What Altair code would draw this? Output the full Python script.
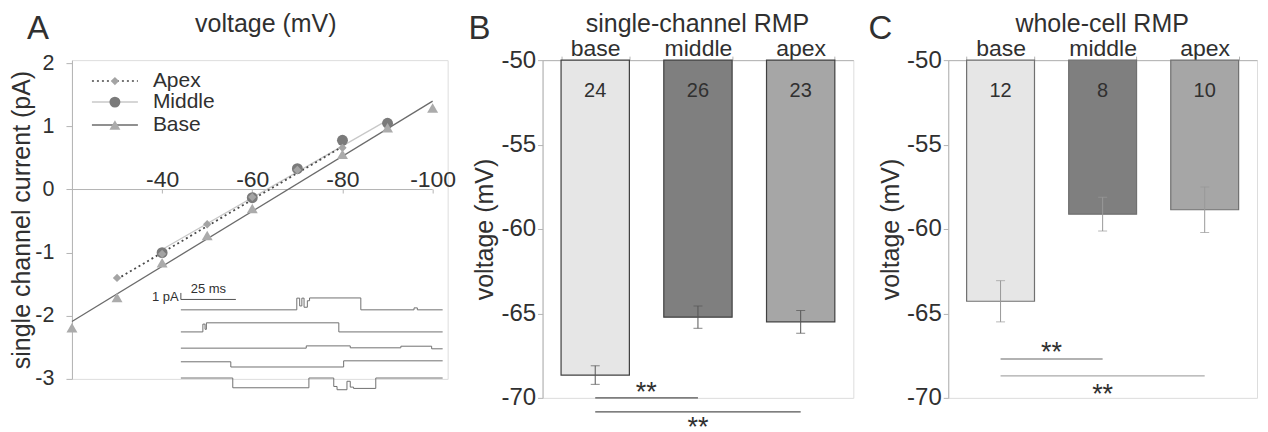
import altair as alt
import pandas as pd

FONT = "Liberation Sans"
TXT = "#303030"
AX = "#b4b4b4"
LBL = "'' + datum.value"

# ---------------- Panel A: I-V relation ----------------
base_v = [-20, -30, -40, -50, -60, -80, -90, -100]
base_i = [-2.19, -1.71, -1.16, -0.73, -0.30, 0.56, 0.98, 1.29]
mid_v = [-40, -60, -70, -80, -90]
mid_i = [-1.00, -0.13, 0.33, 0.78, 1.05]
apex_v = [-30, -40, -50, -60, -70, -80]
apex_i = [-1.40, -1.02, -0.55, -0.12, 0.31, 0.66]
# linear fits (end points)
base_fit_v = [-20, -100]
base_fit_i = [-2.09, 1.40]
mid_fit_v = [-40, -90]
mid_fit_i = [-0.95, 1.10]
apex_fit_v = [-30, -80]
apex_fit_i = [-1.42, 0.68]
x_ticks_A = [-40, -60, -80, -100]
y_ticks_A = [-3, -2, -1, 0, 1, 2]

# inset: single-channel traces (step levels, ms / pA-offset)
tr_t = [
    [0, 52.7, 54.0, 55.0, 56.0, 57.5, 58.5, 81.8, 106.0, 107.5, 119],
    [0, 10.0, 11.0, 11.6, 71.8, 119],
    [0, 57, 77, 100, 114, 119],
    [0, 22.7, 74, 119],
    [0, 23.6, 58.2, 69.5, 71.0, 75.5, 77.0, 78.5, 88.6, 119],
]
tr_c = [
    [-2.6, -0.8, -2.0, -0.8, -2.2, -1.2, -0.77, -2.6, -2.3, -2.6, -2.6],
    [-6.0, -4.8, -5.6, -4.6, -6.0, -6.0],
    [-8.5, -8.15, -8.45, -8.2, -8.6, -8.6],
    [-10.6, -11.4, -10.45, -10.45],
    [-13.1, -14.6, -13.1, -14.4, -14.9, -13.6, -14.5, -14.7, -13.1, -13.1],
]

# ---------------- Panels B, C ----------------
cats = ["base", "middle", "apex"]
bar_colors = ["#e6e6e6", "#7f7f7f", "#a6a6a6"]
b_vals = [-68.65, -65.22, -65.50]
b_errs = [0.55, 0.66, 0.67]
b_n = ["24", "26", "23"]
c_vals = [-64.28, -59.12, -58.86]
c_errs = [1.22, 1.00, 1.35]
c_n = ["12", "8", "10"]
y_ticks_BC = [-50, -55, -60, -65, -70]

one = pd.DataFrame({"k": [0]})

# ---------- build panel A ----------
WA, HA = 376, 319
XA = alt.X("v:Q", scale=alt.Scale(domain=[-103.33, -20], reverse=True, nice=False, zero=False),
           axis=alt.Axis(orient="bottom", offset=-190, values=x_ticks_A, domain=False,
                         tickSize=4, tickColor=AX, labelFontSize=23, labelColor=TXT, labelExpr=LBL,
                         labelPadding=-7, labelBaseline="alphabetic", title=None, grid=False))
YA = alt.Y("i:Q", scale=alt.Scale(domain=[-3, 2.05], nice=False, zero=False),
           axis=alt.Axis(values=y_ticks_A, labelFontSize=21.5, labelColor=TXT, tickSize=6, labelExpr=LBL,
                         tickColor=AX, domainColor=AX, title="single channel current (pA)",
                         titleFontSize=25, titleColor=TXT, titleFontWeight="normal",
                         titlePadding=0, grid=False, labelPadding=12))


def line_layer(vs, is_, **kw):
    return alt.Chart(pd.DataFrame({"v": vs, "i": is_})).mark_line(**kw).encode(x=XA, y=YA)


def pt_layer(vs, is_, **kw):
    return alt.Chart(pd.DataFrame({"v": vs, "i": is_})).mark_point(filled=True, opacity=1, **kw).encode(x=XA, y=YA)


xline = alt.Chart(pd.DataFrame({"v": [-20], "v2": [-100], "i": [0]})).mark_rule(color=AX, strokeWidth=1).encode(
    x=XA, x2="v2:Q", y=YA)

main_layers = [
    xline,
    line_layer(mid_fit_v, mid_fit_i, color="#c8c8c8", strokeWidth=1.3),
    line_layer(base_fit_v, base_fit_i, color="#6b6b6b", strokeWidth=1.3),
    line_layer(apex_fit_v, apex_fit_i, color="#4a4a4a", strokeWidth=1.8, strokeDash=[2, 3]),
    pt_layer(mid_v, mid_i, shape="circle", size=120, color="#7a7a7a"),
    pt_layer(apex_v, apex_i, shape="diamond", size=70, color="#a4a4a4"),
    pt_layer(base_v, base_i, shape="triangle-up", size=120, color="#ababab"),
]

# legend (manual)
leg = [
    ("Apex", 21, "diamond", 70, "#a4a4a4", "#4a4a4a", [2, 3]),
    ("Middle", 42, "circle", 120, "#7a7a7a", "#c8c8c8", None),
    ("Base", 65, "triangle-up", 120, "#ababab", "#6b6b6b", None),
]
for name, yy, shp, sz, mc, lc, dash in leg:
    rk = dict(color=lc, strokeWidth=1.5)
    if dash:
        rk["strokeDash"] = dash
    main_layers.append(alt.Chart(one).mark_rule(**rk).encode(
        x=alt.value(20), x2=alt.value(66), y=alt.value(yy)))
    main_layers.append(alt.Chart(one).mark_point(filled=True, opacity=1, shape=shp, size=sz, color=mc).encode(
        x=alt.value(43), y=alt.value(yy)))
    main_layers.append(alt.Chart(one).mark_text(text=name, fontSize=21, color=TXT, align="left",
                                                baseline="middle").encode(x=alt.value(81), y=alt.value(yy)))

main_layers.append(alt.Chart(one).mark_text(text="voltage (mV)", fontSize=25, color=TXT, align="center",
                                            baseline="middle").encode(x=alt.value(194), y=alt.value(-36)))
main_layers.append(alt.Chart(one).mark_text(text="A", fontSize=33, color=TXT, align="center",
                                            baseline="middle").encode(x=alt.value(-34), y=alt.value(-31)))
A_main = alt.layer(*main_layers)

XI = alt.X("t:Q", scale=alt.Scale(domain=[0, 119], range=[109, 371], nice=False, zero=False), axis=None)
YI = alt.Y("c:Q", scale=alt.Scale(domain=[-16, 0], range=[337, 233], nice=False, zero=False), axis=None)
tr_rows = []
for k, (ts, cs) in enumerate(zip(tr_t, tr_c)):
    for t, c in zip(ts, cs):
        tr_rows.append({"k": k, "t": t, "c": c})
traces = alt.Chart(pd.DataFrame(tr_rows)).mark_line(interpolate="step-after", color="#707070",
                                                     strokeWidth=1).encode(x=XI, y=YI, detail="k:N")
sbar = alt.Chart(pd.DataFrame({"t": [0, 0], "t2": [0, 25], "c": [0, -1], "c2": [-1, -1]})).mark_rule(
    color="#505050", strokeWidth=1).encode(x=XI, x2="t2:Q", y=YI, y2="c2:Q")
sb_txt1 = alt.Chart(pd.DataFrame({"t": [-1.0], "c": [-0.6]})).mark_text(
    text="1 pA", fontSize=13, color=TXT, align="right", baseline="middle").encode(x=XI, y=YI)
sb_txt2 = alt.Chart(pd.DataFrame({"t": [12.5], "c": [-0.4]})).mark_text(
    text="25 ms", fontSize=13, color=TXT, align="center", baseline="bottom").encode(x=XI, y=YI)
A_inset = alt.layer(traces, sbar, sb_txt1, sb_txt2)

panelA = alt.layer(A_main, A_inset).resolve_scale(x="independent", y="independent").properties(
    width=WA, height=HA)


# ---------- bar panels ----------
def bar_panel(vals, errs, ns, edge, err_color, sig, title, title_x, letter, letter_x, width):
    d = pd.DataFrame({"cat": cats, "val": vals,
                      "lo": [v - e for v, e in zip(vals, errs)],
                      "hi": [v + e for v, e in zip(vals, errs)], "n": ns})
    SX = alt.Scale(domain=cats, paddingInner=0.335, paddingOuter=0.18)
    AXX = alt.Axis(orient="top", title=None, labelAngle=0, labelFontSize=23, labelColor=TXT,
                   tickBand="extent", tickSize=4, tickColor=AX, domainColor=AX, labelPadding=1,
                   labelBaseline="alphabetic")
    SY = alt.Scale(domain=[-70, -50], nice=False, zero=False)
    AXY = alt.Axis(values=y_ticks_BC, labelFontSize=24, labelColor=TXT, tickSize=5, tickColor=AX,
                   domainColor=AX, title="voltage (mV)", titleFontSize=25, titleColor=TXT, labelExpr=LBL,
                   titleFontWeight="normal", titlePadding=3, grid=False, labelPadding=2)

    def X(f):
        return alt.X(f, scale=SX, axis=AXX, sort=cats)

    def Y(f):
        return alt.Y(f, scale=SY, axis=AXY)

    bars = alt.Chart(d).mark_bar(stroke=edge, strokeWidth=1.2).encode(
        x=X("cat:N"), y=Y("val:Q"), y2=alt.datum(-50),
        color=alt.Color("cat:N", scale=alt.Scale(domain=cats, range=bar_colors), legend=None))
    err = alt.Chart(d).mark_rule(color=err_color, strokeWidth=1).encode(x=X("cat:N"), y=Y("lo:Q"), y2="hi:Q")
    cap_lo = alt.Chart(d).mark_tick(color=err_color, size=9, thickness=1, orient="horizontal").encode(
        x=X("cat:N"), y=Y("lo:Q"))
    cap_hi = alt.Chart(d).mark_tick(color=err_color, size=9, thickness=1, orient="horizontal").encode(
        x=X("cat:N"), y=Y("hi:Q"))
    ntxt = alt.Chart(d).mark_text(fontSize=20, color=TXT, baseline="middle").encode(
        x=X("cat:N"), y=alt.datum(-51.8), text="n:N")
    layers = [bars, err, cap_lo, cap_hi, ntxt]
    for a, b, lvl, star, scol, star_cat, sdx in sig:
        sd = pd.DataFrame({"a": [a], "b": [b], "lvl": [lvl], "s": [star], "mid": [star_cat]})
        layers.append(alt.Chart(sd).mark_rule(color=scol, strokeWidth=1.2).encode(
            x=X("a:N"), x2="b:N", y=Y("lvl:Q")))
        layers.append(alt.Chart(sd).mark_text(text="**", fontSize=27, color=TXT, baseline="alphabetic",
                                              dy=14, dx=sdx).encode(x=X("mid:N"), y=Y("s:Q")))
    layers.append(alt.Chart(one).mark_text(text=title, fontSize=25, color=TXT, align="center",
                                           baseline="middle").encode(x=alt.value(title_x), y=alt.value(-36)))
    layers.append(alt.Chart(one).mark_text(text=letter, fontSize=33, color=TXT, align="center",
                                           baseline="middle").encode(x=alt.value(letter_x), y=alt.value(-31)))
    return alt.layer(*layers).properties(width=width, height=338)


sigB = [("base", "middle", -70.0, -69.35, "#555555", "base", 51),
        ("base", "apex", -70.83, -71.45, "#555555", "middle", 0)]
sigC = [("base", "middle", -67.7, -67.0, "#666666", "base", 51),
        ("base", "apex", -68.7, -69.5, "#aaaaaa", "middle", 0)]

panelB = bar_panel(b_vals, b_errs, b_n, "#404040", "#555555", sigB, "single-channel RMP", 155, "B", -63, 311)
panelC = bar_panel(c_vals, c_errs, c_n, "#707070", "#999999", sigC, "whole-cell RMP", 154, "C", -68, 309)

chart = alt.hconcat(panelA, panelB, panelC, spacing=95, bounds="flush").configure_view(
    stroke=None).configure(font=FONT).properties(padding={"left": 1, "top": 3, "right": 2, "bottom": 2})

chart.save("out.html", embed_options={"renderer": "svg", "actions": False})
